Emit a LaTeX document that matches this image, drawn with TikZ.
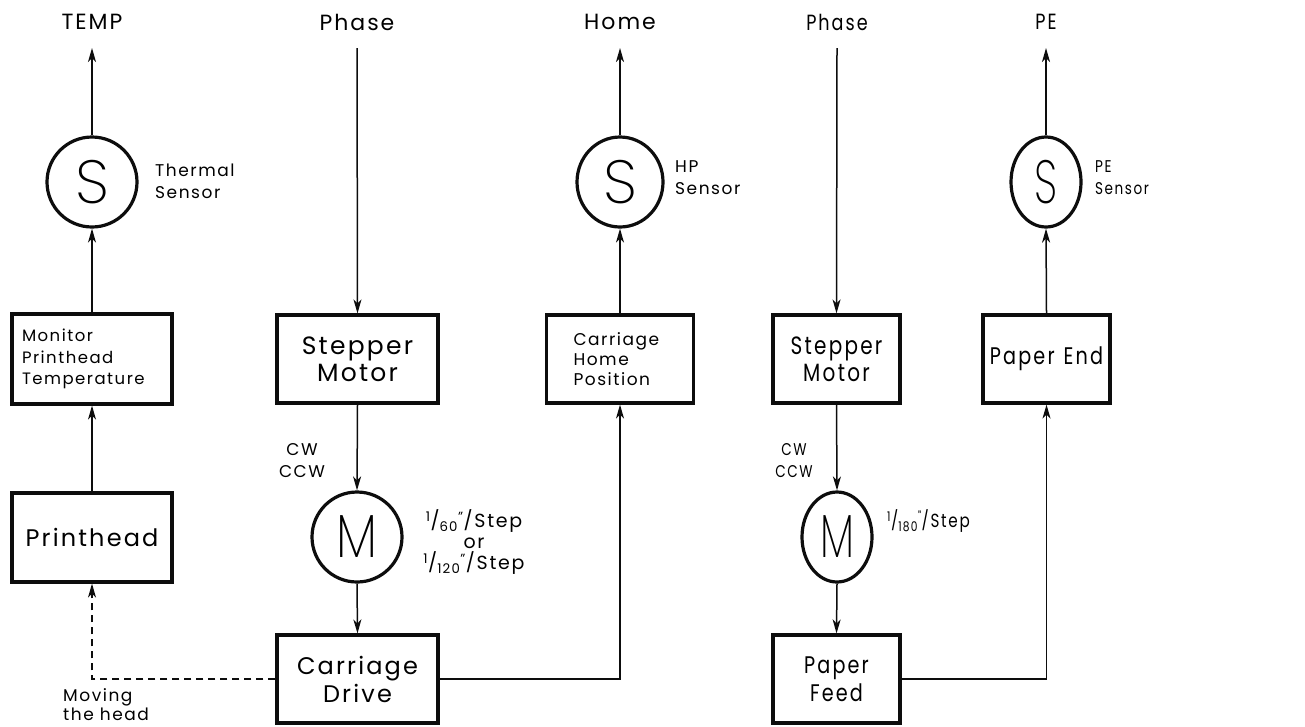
\documentclass[tikz,border=0pt]{standalone}
\usepackage{fontspec}
\setmainfont{Poppins}[LetterSpace=9]
\newfontfamily\narrowfont{Poppins}[FakeStretch=0.8,LetterSpace=9]
\newfontfamily\thinfont{Poppins ExtraLight}
\newfontfamily\thinwide{Poppins ExtraLight}[FakeStretch=0.82]
\newfontfamily\thinnarrow{Poppins ExtraLight}[FakeStretch=0.68]
\usetikzlibrary{arrows.meta,shapes.geometric}
\definecolor{ink}{gray}{0.05}
\tikzset{
  blk/.style={draw=ink,line width=3.2pt,rectangle,minimum height=88pt,inner sep=2pt,font=\fontsize{24}{27}\selectfont,align=center},
  sens/.style={draw=ink,line width=3.2pt,ellipse,inner sep=0pt,minimum height=90pt,font=\thinfont\fontsize{61}{61}\selectfont},
  sensM/.style={sens,font=\thinwide\fontsize{61}{61}\selectfont},
  sensN/.style={sens,font=\thinnarrow\fontsize{61}{61}\selectfont},
  top/.style={font=\fontsize{22}{24}\selectfont},
  note/.style={font=\fontsize{17}{22}\selectfont,align=left,inner sep=0pt},
  narrow/.style={execute at begin node={\narrowfont}},
  sig/.style={draw=ink,line width=1.5pt,-{Stealth[length=14pt,width=8pt,inset=4pt]}},
  mvd/.style={sig,dash pattern=on 7pt off 5pt},
}
\begin{document}
\begin{tikzpicture}[x=1pt,y=-1pt]
  \useasboundingbox (0,0) rectangle (1305,726);
  \node[top] (temp) at (92,22) {TEMP};
  \coordinate (tempend) at (92,48);
  \node[sens,minimum width=90pt] (ts) at (92,182) {S};
  \node[note,anchor=west] (tsl) at (155,181) {Thermal\\Sensor};
  \node[blk,minimum width=160pt,minimum height=90pt,text width=140pt,inner xsep=10pt,align=left,font=\fontsize{16.5}{21.5}\selectfont] (mon) at (92,359) {Monitor\\Printhead\\Temperature};
  \node[blk,minimum width=160pt,minimum height=89pt] (ph) at (92,537.5) {Printhead};
  \node[note,anchor=north west,font=\fontsize{17}{19}\selectfont] (mv) at (63,688) {Moving\\the head};
  \node[top] (phase1) at (357,22) {Phase};
  \coordinate (phase1start) at (357,48);
  \node[blk,minimum width=161pt,font=\fontsize{25}{27}\selectfont] (sm1) at (357.5,359) {Stepper\\Motor};
  \node[note,align=center] (cw1) at (302,461) {CW\\CCW};
  \node[sensM,minimum width=90pt] (m1) at (357,537) {M};
  \node[note,align=center,font=\fontsize{19}{21}\selectfont] (rate1) at (474,542) {\textsuperscript{1}/\textsubscript{60}\textsuperscript{"}/Step\\or\\\textsuperscript{1}/\textsubscript{120}\textsuperscript{"}/Step};
  \node[blk,minimum width=161pt,font=\fontsize{24}{28}\selectfont] (cd) at (357.5,679) {Carriage\\Drive};
  \node[top] (home) at (620,22) {Home};
  \coordinate (homeend) at (620,48);
  \node[sens,minimum width=86pt] (hp) at (620,182) {S};
  \node[note,anchor=west] (hpl) at (675,178) {HP\\Sensor};
  \node[blk,minimum width=147pt,text width=93pt,inner xsep=27pt,align=left,font=\fontsize{17}{20}\selectfont] (chp) at (620,359) {Carriage\\Home\\Position};
  \node[top,narrow] (phase2) at (837,22) {Phase};
  \coordinate (phase2start) at (837,48);
  \node[blk,narrow,minimum width=127pt,font=\fontsize{25}{27}\selectfont] (sm2) at (836.5,359) {Stepper\\Motor};
  \node[note,narrow,align=center] (cw2) at (794,461) {CW\\CCW};
  \node[sensN,minimum width=70pt] (m2) at (837,537) {M};
  \node[note,narrow,anchor=west,font=\fontsize{19}{21}\selectfont] (rate2) at (887,521) {\textsuperscript{1}/\textsubscript{180}\textsuperscript{"}/Step};
  \node[blk,narrow,minimum width=127pt,font=\fontsize{24}{28}\selectfont] (pf) at (836.5,679) {Paper\\Feed};
  \node[top,narrow] (pe) at (1046,22) {PE};
  \coordinate (peend) at (1046,48);
  \node[sensN,minimum width=70pt] (pes) at (1046,182) {S};
  \node[note,narrow,anchor=west] (pesl) at (1095,178) {PE\\Sensor};
  \node[blk,narrow,minimum width=127pt,font=\fontsize{24}{27}\selectfont] (pend) at (1046.5,359) {Paper\hspace{9pt}End};
  \draw[sig] (ts.north) -- (tempend);
  \draw[sig] (mon.north) -- (ts.south);
  \draw[sig] (ph.north) -- (mon.south);
  \draw[mvd] (cd.west) -| (ph.south);
  \draw[sig] (phase1start) -- (sm1.north);
  \draw[sig] (sm1.south) -- (m1.north);
  \draw[sig] (m1.south) -- (cd.north);
  \draw[sig] (cd.east) -| (chp.south);
  \draw[sig] (chp.north) -- (hp.south);
  \draw[sig] (hp.north) -- (homeend);
  \draw[sig] (phase2start) -- (sm2.north);
  \draw[sig] (sm2.south) -- (m2.north);
  \draw[sig] (m2.south) -- (pf.north);
  \draw[sig] (pf.east) -| (pend.south);
  \draw[sig] (pend.north) -- (pes.south);
  \draw[sig] (pes.north) -- (peend);
\end{tikzpicture}
\end{document}
